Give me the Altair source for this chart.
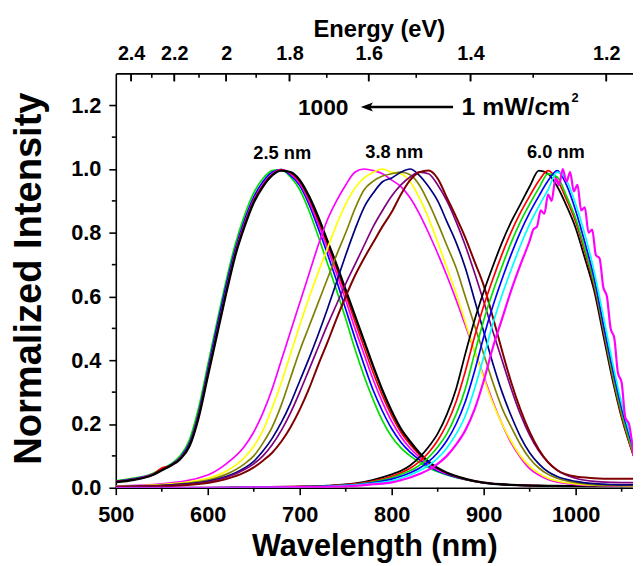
import altair as alt
import pandas as pd

FONT = "Liberation Sans"

# ---------------- data ----------------
# 2.5 nm dots
G25 = [500, 520, 540, 550, 560, 570, 580, 590, 600, 610, 620, 630, 640, 650, 660,
       670, 680, 690, 700, 710, 720, 730, 740, 750, 760, 770, 780, 790, 800, 810,
       820, 830, 840, 850, 860, 880, 900, 930, 970, 1010, 1063]
green25 = [0.022, 0.03, 0.045, 0.06, 0.075,
           0.1, 0.15, 0.25, 0.385, 0.52, 0.65, 0.765, 0.855, 0.925, 0.97,
           0.995, 0.998, 0.975, 0.935, 0.87, 0.79, 0.705, 0.62, 0.53, 0.435,
           0.35, 0.275, 0.21, 0.16, 0.125, 0.1, 0.08, 0.063, 0.05, 0.04,
           0.025, 0.015, 0.009, 0.006, 0.005, 0.005]
blue25 = [0.02, 0.028, 0.042, 0.057, 0.072,
          0.095, 0.14, 0.235, 0.37, 0.505, 0.635, 0.75, 0.84, 0.912, 0.96,
          0.99, 0.998, 0.98, 0.948, 0.89, 0.815, 0.735, 0.65, 0.56, 0.47,
          0.385, 0.305, 0.24, 0.185, 0.143, 0.112, 0.088, 0.068, 0.053, 0.042,
          0.026, 0.015, 0.009, 0.006, 0.005, 0.005]
magenta25 = [0.02, 0.027, 0.042, 0.056, 0.071,
             0.093, 0.135, 0.228, 0.36, 0.49, 0.62, 0.74, 0.83, 0.903, 0.952,
             0.985, 0.998, 0.985, 0.955, 0.9, 0.83, 0.752, 0.672, 0.588, 0.5,
             0.418, 0.338, 0.268, 0.208, 0.16, 0.124, 0.096, 0.073, 0.056, 0.044,
             0.027, 0.016, 0.009, 0.006, 0.005, 0.005]
red25 = [0.019, 0.026, 0.041, 0.062, 0.07,
         0.091, 0.132, 0.224, 0.355, 0.485, 0.615, 0.735, 0.825, 0.9, 0.948,
         0.982, 0.997, 0.988, 0.96, 0.908, 0.84, 0.765, 0.688, 0.606, 0.522,
         0.44, 0.36, 0.288, 0.226, 0.174, 0.136, 0.104, 0.078, 0.06, 0.046,
         0.027, 0.016, 0.009, 0.006, 0.005, 0.005]
black25 = [0.018, 0.025, 0.04, 0.055, 0.07,
           0.09, 0.13, 0.22, 0.35, 0.48, 0.61, 0.73, 0.82, 0.895, 0.945,
           0.98, 0.995, 0.99, 0.965, 0.915, 0.85, 0.775, 0.7, 0.62, 0.54,
           0.46, 0.38, 0.305, 0.24, 0.185, 0.145, 0.11, 0.082, 0.062, 0.047,
           0.028, 0.016, 0.009, 0.006, 0.005, 0.005]

# 3.8 nm dots
G38 = [500, 550, 600, 620, 640, 650, 660, 670, 680, 690, 700, 710, 720, 730,
       740, 750, 760, 770, 780, 790, 800, 810, 820, 830, 840, 850, 860, 870,
       880, 890, 900, 910, 920, 930, 940, 950, 960, 970, 980, 1000, 1020, 1040, 1063]
magenta38 = [0.005, 0.012, 0.04, 0.075,
             0.13, 0.175, 0.235, 0.31, 0.4, 0.49, 0.58, 0.67, 0.76, 0.84,
             0.9, 0.95, 0.99, 1.0, 0.995, 0.985, 0.965, 0.945, 0.91, 0.86,
             0.8, 0.735, 0.665, 0.59, 0.51, 0.43, 0.35, 0.27, 0.2, 0.14,
             0.095, 0.06, 0.04, 0.026, 0.018,
             0.01, 0.007, 0.006, 0.006]
yellow38 = [0.004, 0.01, 0.03, 0.052,
            0.095, 0.13, 0.18, 0.25, 0.33, 0.42, 0.51, 0.595, 0.675, 0.75,
            0.825, 0.89, 0.94, 0.972, 0.99, 1.0, 0.99, 0.985, 0.96, 0.91,
            0.846, 0.77, 0.69, 0.61, 0.52, 0.43, 0.345, 0.265, 0.2, 0.145,
            0.1, 0.068, 0.045, 0.03, 0.021,
            0.012, 0.008, 0.007, 0.006]
olive38 = [0.004, 0.008, 0.024, 0.042,
           0.075, 0.1, 0.14, 0.19, 0.26, 0.345, 0.43, 0.505, 0.58, 0.655,
           0.73, 0.8, 0.875, 0.935, 0.962, 0.978, 0.985, 0.99, 0.982, 0.95,
           0.895, 0.83, 0.76, 0.69, 0.6, 0.51, 0.42, 0.33, 0.25, 0.19,
           0.135, 0.092, 0.062, 0.042, 0.03,
           0.016, 0.01, 0.008, 0.007]
navy38 = [0.003, 0.007, 0.02, 0.035,
          0.062, 0.083, 0.115, 0.155, 0.205, 0.265, 0.335, 0.405, 0.48, 0.56,
          0.645, 0.73, 0.81, 0.88, 0.925, 0.96, 0.972, 0.99, 1.0, 0.98,
          0.945, 0.9, 0.835, 0.77, 0.69, 0.59, 0.49, 0.39, 0.3, 0.225,
          0.16, 0.11, 0.075, 0.05, 0.035,
          0.02, 0.013, 0.01, 0.009]
purple38 = [0.003, 0.006, 0.018, 0.032,
            0.057, 0.075, 0.1, 0.135, 0.18, 0.235, 0.3, 0.37, 0.44, 0.51,
            0.575, 0.64, 0.7, 0.76, 0.82, 0.87, 0.915, 0.95, 0.975, 0.99,
            0.985, 0.95, 0.9, 0.835, 0.76, 0.675, 0.585, 0.49, 0.4, 0.31,
            0.23, 0.165, 0.115, 0.08, 0.055,
            0.03, 0.02, 0.017, 0.016]
brown38 = [0.003, 0.005, 0.015, 0.027,
           0.048, 0.064, 0.085, 0.11, 0.145, 0.19, 0.245, 0.31, 0.385, 0.455,
           0.53, 0.6, 0.665, 0.72, 0.77, 0.82, 0.865, 0.92, 0.965, 0.99,
           0.995, 0.97, 0.91, 0.85, 0.785, 0.71, 0.635, 0.535, 0.43, 0.33,
           0.245, 0.175, 0.12, 0.08, 0.055,
           0.035, 0.03, 0.028, 0.028]

# 6.0 nm dots
G60 = [500, 600, 650, 700, 730, 760, 780, 800, 810, 820, 830, 840, 850, 860,
       870, 880, 890, 900, 910, 920, 930, 940, 950, 960, 970, 980, 990, 1000,
       1010, 1020, 1030, 1040, 1050, 1063]
black60 = [0.0, 0.0, 0.002, 0.004, 0.007, 0.014, 0.025,
           0.042, 0.053, 0.07, 0.095, 0.128, 0.17, 0.23, 0.31, 0.42, 0.525,
           0.615, 0.695, 0.77, 0.835, 0.89, 0.945, 0.995, 0.985, 0.945, 0.885,
           0.815, 0.72, 0.62, 0.48, 0.34, 0.22, 0.1]
red60 = [0.0, 0.0, 0.002, 0.004, 0.006, 0.012, 0.021,
         0.036, 0.047, 0.061, 0.082, 0.11, 0.148, 0.2, 0.27, 0.365, 0.473,
         0.57, 0.655, 0.733, 0.803, 0.863, 0.915, 0.963, 0.995, 0.965, 0.905,
         0.835, 0.74, 0.635, 0.495, 0.35, 0.225, 0.1]
green60 = [0.0, 0.0, 0.001, 0.003, 0.005, 0.01, 0.018,
           0.031, 0.042, 0.053, 0.07, 0.095, 0.128, 0.17, 0.23, 0.31, 0.42,
           0.525, 0.615, 0.695, 0.77, 0.835, 0.89, 0.94, 0.985, 0.975, 0.915,
           0.845, 0.75, 0.645, 0.505, 0.36, 0.235, 0.105]
blue60 = [0.0, 0.0, 0.001, 0.003, 0.005, 0.009, 0.016,
          0.027, 0.036, 0.047, 0.061, 0.082, 0.11, 0.148, 0.2, 0.27, 0.365,
          0.473, 0.57, 0.655, 0.733, 0.803, 0.863, 0.915, 0.963, 0.995, 0.95,
          0.87, 0.77, 0.66, 0.515, 0.375, 0.25, 0.12]
cyan60 = [0.0, 0.0, 0.001, 0.002, 0.004, 0.008, 0.014,
          0.022, 0.03, 0.04, 0.053, 0.07, 0.093, 0.125, 0.168, 0.225, 0.31,
          0.41, 0.515, 0.605, 0.685, 0.76, 0.827, 0.883, 0.935, 0.99, 0.965,
          0.89, 0.795, 0.68, 0.54, 0.395, 0.265, 0.13]
# magenta 6.0 nm trace is noisy near its top: finer grid there
G60M = [500, 600, 650, 700, 730, 760, 780, 800, 810, 820, 830, 840, 850, 860,
        870, 880, 890, 900, 910, 920, 930, 940, 950, 954, 958, 962, 966, 970,
        974, 978, 982, 986, 990, 994, 998, 1002, 1006, 1010, 1014, 1018, 1022,
        1026, 1030, 1034, 1038, 1042, 1046, 1050, 1054, 1058, 1063]
magenta60 = [0.0, 0.0, 0.001, 0.002, 0.003, 0.006, 0.011,
             0.017, 0.024, 0.032, 0.043, 0.056, 0.075, 0.1, 0.135, 0.18, 0.245,
             0.335, 0.44, 0.53, 0.62, 0.7, 0.775, 0.81, 0.82, 0.87, 0.86, 0.92,
             0.9, 0.97, 0.95, 1.0, 0.96, 0.99, 0.93, 0.95, 0.87, 0.88,
             0.8, 0.81, 0.73, 0.72, 0.63, 0.6, 0.5, 0.47, 0.36, 0.33,
             0.22, 0.2, 0.1]

# axes
X_MAJOR = [500, 600, 700, 800, 900, 1000]
X_MINOR = [550, 650, 750, 850, 950, 1050]
Y_MAJOR = [0.0, 0.2, 0.4, 0.6, 0.8, 1.0, 1.2]
Y_MINOR = [0.1, 0.3, 0.5, 0.7, 0.9, 1.1]
E_MAJOR = [2.4, 2.2, 2.0, 1.8, 1.6, 1.4, 1.2]
E_MINOR = [2.3, 2.1, 1.9, 1.7, 1.5, 1.3]

# annotations
ann_c_text = ["1000", "2.5 nm", "3.8 nm", "6.0 nm"]
ann_c_x = [725.5, 681.0, 802.7, 978.5]
ann_c_y = [1.169, 1.030, 1.034, 1.036]
ann_c_size = [23, 18.5, 18.5, 18.5]
ann_l_text = ["1 mW/cm", "2"]
ann_l_x = [876.0, 995.5]
ann_l_y = [1.169, 1.21]
ann_l_size = [25, 13]
arrow_x_start = [866.7]
arrow_x_end = [775.0]
arrow_y = [1.1945]
arrow_head_x = [773.0]

curves = [
    ("g25_green", "#00e000", G25, green25, 1.7),
    ("g25_blue", "#0000ff", G25, blue25, 1.7),
    ("g25_magenta", "#ff00ff", G25, magenta25, 1.7),
    ("g25_red", "#ff0000", G25, red25, 1.7),
    ("g25_black", "#000000", G25, black25, 2.4),
    ("g38_magenta", "#ff00ff", G38, magenta38, 1.7),
    ("g38_yellow", "#ffff00", G38, yellow38, 1.7),
    ("g38_olive", "#808000", G38, olive38, 1.7),
    ("g38_navy", "#000080", G38, navy38, 1.7),
    ("g38_purple", "#800080", G38, purple38, 1.7),
    ("g38_brown", "#800000", G38, brown38, 2.0),
    ("g60_black", "#000000", G60, black60, 1.8),
    ("g60_red", "#ff0000", G60, red60, 1.7),
    ("g60_green", "#00e000", G60, green60, 1.7),
    ("g60_blue", "#0000ff", G60, blue60, 1.7),
    ("g60_cyan", "#00ffff", G60, cyan60, 1.7),
    ("g60_magenta", "#ff00ff", G60M, magenta60, 2.2),
]

rows = []
for name, color, xs, ys, sw in curves:
    assert len(xs) == len(ys), name
    for x, y in zip(xs, ys):
        rows.append({"wl": x, "I": y, "series": name, "sw": sw})
df = pd.DataFrame(rows)
names = [c[0] for c in curves]
colors = [c[1] for c in curves]

W, H = 523, 419
XDOM = [500, 500 + W / 0.93]
YDOM = [0, 1.3]
xscale = alt.Scale(domain=XDOM, nice=False, zero=False)
yscale = alt.Scale(domain=YDOM, nice=False, zero=False)

XAXIS = alt.Axis(
    orient="bottom", values=X_MAJOR, format="d", grid=False, labelFlush=False,
    labelFont=FONT, labelFontSize=22, labelFontWeight="bold", labelColor="black",
    labelPadding=10, tickSize=7, tickWidth=1.6, tickColor="black",
    domainColor="black", domainWidth=1.6,
    title="Wavelength (nm)", titleFont=FONT, titleFontSize=31,
    titleFontWeight="bold", titleColor="black",
    titleBaseline="alphabetic", titleY=69)
YAXIS = alt.Axis(
    orient="left", values=Y_MAJOR, format=".1f", grid=False, labelFlush=False,
    labelFont=FONT, labelFontSize=22, labelFontWeight="bold", labelColor="black",
    labelPadding=8, tickSize=7, tickWidth=1.6, tickColor="black",
    domainColor="black", domainWidth=1.6,
    title="Normalized Intensity", titleFont=FONT, titleFontSize=38.5,
    titleFontWeight="bold", titleColor="black", titleAngle=270,
    titleBaseline="alphabetic", titleX=-76, titleY=207)


def X(field):
    return alt.X(field, scale=xscale, axis=XAXIS)


def Y(field):
    return alt.Y(field, scale=yscale, axis=YAXIS)


lines = alt.Chart(df).mark_line(interpolate="monotone", clip=True).encode(
    x=X("wl:Q"),
    y=Y("I:Q"),
    color=alt.Color("series:N", scale=alt.Scale(domain=names, range=colors), legend=None),
    strokeWidth=alt.StrokeWidth("sw:Q", scale=None),
    detail="series:N",
)

xminor = alt.Chart(pd.DataFrame({"wl": X_MINOR})).mark_rule(color="black", strokeWidth=1.6).encode(
    x=X("wl:Q"), y=alt.value(H), y2=alt.value(H + 4))
yminor = alt.Chart(pd.DataFrame({"I": Y_MINOR})).mark_rule(color="black", strokeWidth=1.6).encode(
    y=Y("I:Q"), x=alt.value(-4), x2=alt.value(0))
topminor = alt.Chart(pd.DataFrame({"E": E_MINOR})).transform_calculate(
    wl="1240 / datum.E").mark_rule(color="black", strokeWidth=1.6).encode(
    x=X("wl:Q"), y=alt.value(0), y2=alt.value(4.5))
topmajor = alt.Chart(pd.DataFrame({"E": E_MAJOR})).transform_calculate(
    wl="1240 / datum.E").mark_rule(color="black", strokeWidth=1.6).encode(
    x=X("wl:Q"), y=alt.value(0), y2=alt.value(8))

ann_c = alt.Chart(pd.DataFrame({"wl": ann_c_x, "I": ann_c_y, "t": ann_c_text, "s": ann_c_size})).mark_text(
    font=FONT, fontWeight="bold", color="black", align="center", baseline="alphabetic").encode(
    x=X("wl:Q"), y=Y("I:Q"), text="t:N", size=alt.Size("s:Q", scale=None))
ann_l = alt.Chart(pd.DataFrame({"wl": ann_l_x, "I": ann_l_y, "t": ann_l_text, "s": ann_l_size})).mark_text(
    font=FONT, fontWeight="bold", color="black", align="left", baseline="alphabetic").encode(
    x=X("wl:Q"), y=Y("I:Q"), text="t:N", size=alt.Size("s:Q", scale=None))

arrow_line = alt.Chart(pd.DataFrame({"wl": arrow_x_start, "wl2": arrow_x_end, "I": arrow_y})).mark_rule(
    color="black", strokeWidth=2.6).encode(x=X("wl:Q"), x2="wl2:Q", y=Y("I:Q"))
arrow_head = alt.Chart(pd.DataFrame({"wl": arrow_head_x, "I": arrow_y})).mark_point(
    shape="M-1,0 L1,-0.75 L0.55,0 L1,0.75 Z", filled=True, size=150, color="black",
    opacity=1, strokeWidth=0).encode(x=X("wl:Q"), y=Y("I:Q"))

main = alt.layer(lines, xminor, yminor, topminor, topmajor, arrow_line, arrow_head, ann_c, ann_l)

# top energy axis (labels only, same wavelength mapping)
top = alt.Chart(pd.DataFrame({"E": E_MAJOR})).transform_calculate(
    wl="1240 / datum.E").mark_rule(color="black", strokeWidth=1.6).encode(
    x=alt.X("wl:Q", scale=xscale, axis=alt.Axis(
        orient="top", values=[1240 / e for e in E_MAJOR],
        labelExpr="'' + round(12400 / datum.value) / 10",
        ticks=False, tickSize=0, grid=False, labelFlush=False,
        labelFont=FONT, labelFontSize=20, labelFontWeight="bold", labelColor="black",
        labelPadding=10, domainColor="black", domainWidth=1.6,
        title="Energy (eV)", titleFont=FONT, titleFontSize=24, titleFontWeight="bold",
        titleColor="black", titleBaseline="alphabetic", titleX=266, titleY=-37)),
    y=alt.value(0), y2=alt.value(8))

chart = alt.layer(main, top).resolve_scale(x="independent").properties(
    width=W, height=H,
    padding={"left": 109, "top": 63, "right": 0, "bottom": 76},
    autosize=alt.AutoSizeParams(type="none"),
    background="white",
).configure_view(stroke=None)

chart.save("out.html", embed_options={"renderer": "svg", "actions": False})
